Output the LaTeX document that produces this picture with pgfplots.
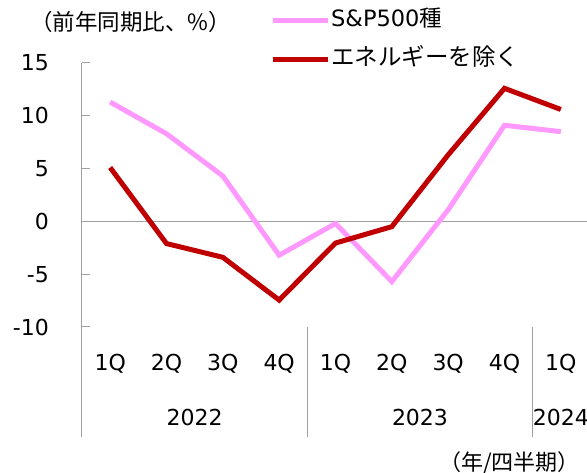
\documentclass[border=0pt]{standalone}
\usepackage{fontspec}
\setmainfont{DejaVu Sans}
\newfontfamily\jp{Noto Sans CJK JP}
\usepackage{pgfplots}
\pgfplotsset{compat=1.18}
\definecolor{pinkl}{HTML}{FF99FF}
\definecolor{darkred}{HTML}{C00000}
\definecolor{axgray}{HTML}{A0A0A0}
\begin{document}
\begin{tikzpicture}[x=1pt,y=1pt]
\begin{axis}[
  at={(82pt,146pt)}, anchor=south west,
  scale only axis, width=507pt, height=264pt,
  xmin=-0.5, xmax=8.5, ymin=-10, ymax=15,
  clip=false,
  axis lines*=left,
  x axis line style={draw=none},
  y axis line style={draw=none},
  xtick={0,...,8},
  xticklabels={1Q,2Q,3Q,4Q,1Q,2Q,3Q,4Q,1Q},
  xtick style={draw=none},
  xticklabel style={anchor=base, yshift=-44pt, inner sep=0pt},
  ytick={-10,-5,0,5,10,15},
  yticklabels={-10,-5,0,5,10,15},
  ytick style={axgray, line width=1pt},
  tick align=inside,
  major tick length=8pt,
  yticklabel style={anchor=east, inner sep=0pt, xshift=-33pt},
  tick label style={font=\fontsize{22}{26}\selectfont},
  legend style={at={(rel axis cs:0.3708,1.215)}, anchor=north west, draw=none, fill=none,
    inner sep=0pt, row sep=16pt, font=\fontsize{22.5}{26}\selectfont,
    nodes={inner sep=1pt}},
  legend cell align=left,
  legend image code/.code={\draw[#1] (0pt,-3pt) -- (55pt,-3pt);},
]
\draw[axgray, line width=1pt] (axis cs:-0.5,0) -- (axis cs:8.5,0);
\draw[axgray, line width=1pt] (axis cs:-0.5,15) -- ([yshift=-110pt]axis cs:-0.5,-10);
\draw[axgray, line width=1pt] (axis cs:3.5,-10) -- ([yshift=-110pt]axis cs:3.5,-10);
\draw[axgray, line width=1pt] (axis cs:7.5,-10) -- ([yshift=-110pt]axis cs:7.5,-10);
\addplot[pinkl, line width=5pt] coordinates {
 (0,11.3) (1,8.3) (2,4.3) (3,-3.2) (4,-0.2) (5,-5.7) (6,1.1) (7,9.1) (8,8.5)};
\addlegendentry{S\&P500{\jp 種}}
\addplot[darkred, line width=5pt] coordinates {
 (0,5.1) (1,-2.1) (2,-3.4) (3,-7.45) (4,-2.05) (5,-0.5) (6,6.3) (7,12.6) (8,10.6)};
\addlegendentry{{\fontsize{23.5}{26}\selectfont\jp エネルギーを除く}}
\node[anchor=base, font=\fontsize{22}{26}\selectfont, inner sep=0pt] at ([yshift=-99pt]axis cs:1.5,-10) {2022};
\node[anchor=base, font=\fontsize{22}{26}\selectfont, inner sep=0pt] at ([yshift=-99pt]axis cs:5.5,-10) {2023};
\node[anchor=base, font=\fontsize{22}{26}\selectfont, inner sep=0pt] at ([yshift=-99pt]axis cs:8,-10) {2024};
\end{axis}
\node[anchor=west, inner sep=0pt, font=\fontsize{22.5}{26}\selectfont\jp] at (30pt,451pt) {（前年同期比、\%）};
\node[anchor=east, inner sep=0pt, font=\fontsize{22}{26}\selectfont\jp] at (580pt,10pt) {（年/四半期）};
\pgfresetboundingbox
\path[use as bounding box] (0pt,0pt) rectangle (587pt,473pt);
\end{tikzpicture}
\end{document}
